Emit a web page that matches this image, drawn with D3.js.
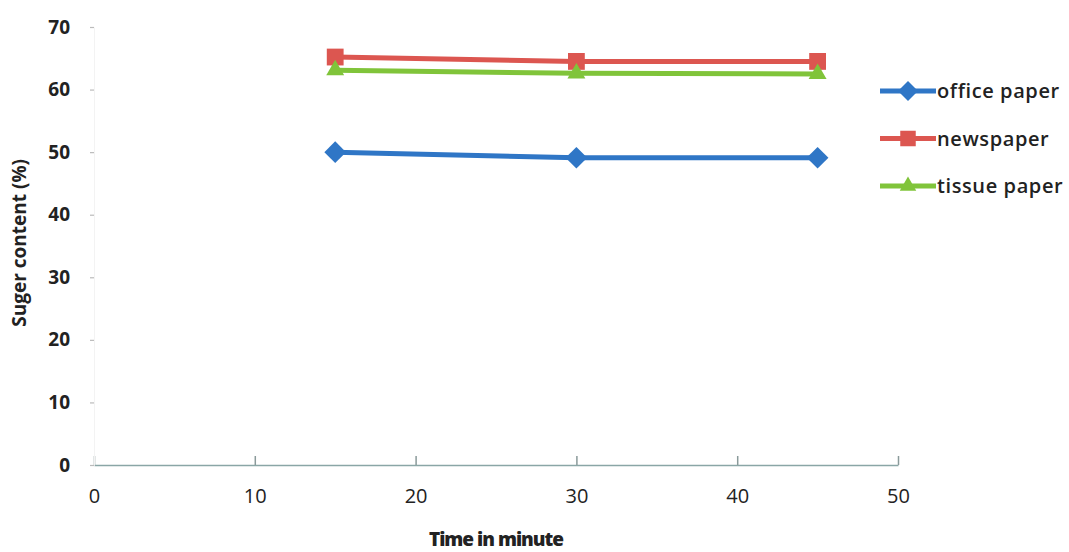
<!DOCTYPE html>
<html><head><meta charset="utf-8">
<script src="https://cdn.jsdelivr.net/npm/d3@7"></script>
<style>body{margin:0;background:#fff}svg text{font-family:"Open Sans",sans-serif;fill:#222}</style>
</head><body><svg id="c" width="1069" height="552"></svg>
<script>
const times = [15, 30, 45];
const officePaper = [50.0, 49.1, 49.1];
const newspaper = [65.2, 64.5, 64.5];
const tissuePaper = [63.1, 62.6, 62.5];
const seriesNames = ["office paper", "newspaper", "tissue paper"];
const xTicks = [0, 10, 20, 30, 40, 50];
const yTicks = [0, 10, 20, 30, 40, 50, 60, 70];

const series = [
  {name: seriesNames[0], values: officePaper, color: "#2f76c6", sym: d3.symbolDiamond2, size: 300},
  {name: seriesNames[1], values: newspaper, color: "#dc5650", sym: d3.symbolSquare2, size: 360},
  {name: seriesNames[2], values: tissuePaper, color: "#80c43a", sym: d3.symbolTriangle2, size: 230}
];

const svg = d3.select("#c");
const x = d3.scaleLinear().domain([0, 50]).range([94, 898]);
const y = d3.scaleLinear().domain([0, 70]).range([465, 27]);

// x axis
const xa = svg.append("g").attr("transform", `translate(0,${y(0)})`)
  .call(d3.axisBottom(x).tickValues(xTicks).tickSize(-9).tickSizeOuter(0).tickPadding(24));
xa.select(".domain").attr("stroke", "#8aa6a6").attr("stroke-width", 1.5);
xa.selectAll(".tick line").attr("stroke", "#8a9a9a").attr("stroke-width", 1.5);
xa.selectAll(".tick text").attr("font-size", 20).attr("font-weight", 400).attr("fill", "#333");

// y axis (faint in reference)
const ya = svg.append("g").attr("transform", `translate(${x(0)},0)`)
  .call(d3.axisLeft(y).tickValues(yTicks).tickSize(4).tickSizeOuter(0).tickPadding(20));
ya.select(".domain").attr("stroke", "#f3f3f3").attr("stroke-width", 1);
ya.selectAll(".tick line").attr("stroke", "#bbb").attr("stroke-width", 1.2);
ya.selectAll(".tick text").attr("font-size", 19).attr("font-weight", 700).attr("fill", "#222");

// titles
svg.append("text").attr("x", x(25)).attr("y", 546).attr("text-anchor", "middle")
  .attr("font-size", 19).attr("font-weight", 800).attr("letter-spacing", -1).text("Time in minute");
svg.append("text").attr("transform", `translate(26,${y(35.5)}) rotate(-90)`).attr("text-anchor", "middle")
  .attr("font-size", 19).attr("font-weight", 700).text("Suger content (%)");

// lines
const line = d3.line().x((d, i) => x(times[i])).y(d => y(d));
series.forEach(s => {
  svg.append("path").datum(s.values).attr("d", line).attr("fill", "none")
    .attr("stroke", s.color).attr("stroke-width", 5);
  svg.selectAll(null).data(s.values).enter().append("path")
    .attr("transform", (d, i) => `translate(${x(times[i])},${y(d)})`)
    .attr("d", d3.symbol().type(s.sym).size(s.size))
    .attr("fill", s.color);
});

// legend
const lg = svg.append("g");
series.forEach((s, i) => {
  const ly = 91 + i * 47.5;
  lg.append("line").attr("x1", 880).attr("x2", 936).attr("y1", ly).attr("y2", ly)
    .attr("stroke", s.color).attr("stroke-width", 5);
  lg.append("path").attr("transform", `translate(908,${ly})`)
    .attr("d", d3.symbol().type(s.sym).size(s.size * 0.85)).attr("fill", s.color);
  lg.append("text").attr("x", 937).attr("y", ly).attr("dy", "0.35em")
    .attr("font-size", 20).attr("font-weight", 600).attr("letter-spacing", 0.6).text(s.name);
});
</script></body></html>
